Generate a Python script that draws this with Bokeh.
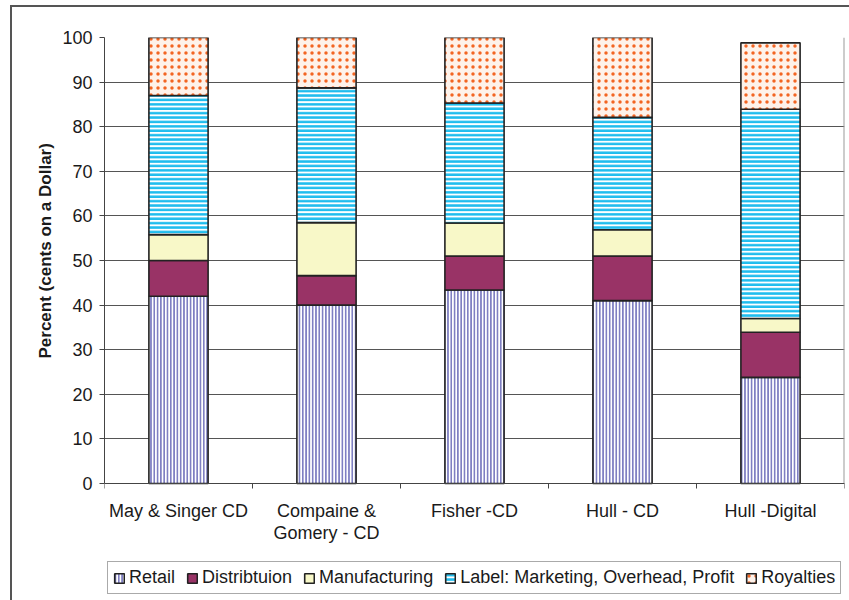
import numpy as np
from bokeh.plotting import figure
from bokeh.models import (Range1d, FixedTicker, Legend, LegendItem, ColumnDataSource,
                          Title)
from bokeh.embed import file_html
from bokeh.resources import INLINE

# Share of each dollar of a recording's price, by source of the estimate
sources = ["May & Singer CD", "Compaine &\nGomery - CD", "Fisher -CD", "Hull - CD", "Hull -Digital"]
retail = [42.0, 40.0, 43.4, 41.0, 23.8]
distribution = [8.0, 6.6, 7.6, 10.0, 10.1]
manufacturing = [5.8, 11.9, 7.4, 5.9, 3.1]
label_share = [31.2, 30.2, 26.9, 25.2, 46.9]
royalties = [13.0, 11.3, 14.7, 17.9, 14.9]

series_names = ["Retail", "Distribtuion", "Manufacturing",
                "Label: Marketing, Overhead, Profit", "Royalties"]
y_ticks = [0, 10, 20, 30, 40, 50, 60, 70, 80, 90, 100]

FONT = "Liberation Sans"
TEXT = "#1a1a1a"
AXIS = "#444444"

# plot area: 446 px tall for 0..100; it is extended downwards so that the
# category labels and the legend are drawn inside it
PX_PER_UNIT = 4.46
FRAME_H = 563
y_start = 100 - FRAME_H / PX_PER_UNIT

xpos = np.arange(len(sources)) + 0.5
stack = np.vstack([retail, distribution, manufacturing, label_share, royalties])
tops = np.cumsum(stack, axis=0)
bottoms = tops - stack

p = figure(frame_width=740, frame_height=FRAME_H, output_backend="svg",
           toolbar_location=None,
           x_range=Range1d(0, len(sources)), y_range=Range1d(y_start, 100),
           min_border_left=104, min_border_right=5, min_border_top=37,
           min_border_bottom=0)
p.outline_line_color = None
p.background_fill_color = "white"
# transparent border area so the page background (with the chart's
# outer frame lines) shows through
p.border_fill_color = None
p.styles = {
    "background-color": "white",
    "background-image": "linear-gradient(#555555, #555555), linear-gradient(#555555, #555555)",
    "background-size": "2px 700px, 900px 2px",
    "background-position": "10px 5px, 10px 5px",
    "background-repeat": "no-repeat",
}

# bar styles: hatched or solid fills
styles = [
    dict(fill_color="white", hatch_pattern="vertical_line", hatch_color="#7F7FC2",
         hatch_scale=3.3, hatch_weight=2),
    dict(fill_color="#993366"),
    dict(fill_color="#F8F8C8"),
    dict(fill_color="white", hatch_pattern="horizontal_line", hatch_color="#1FBDEE",
         hatch_scale=4.4, hatch_weight=2.6),
    dict(fill_color="#FEF2EA", hatch_pattern="dot", hatch_color="#F26522",
         hatch_scale=7, hatch_weight=6),
]

renderers = []
for i, st in enumerate(styles):
    src = ColumnDataSource(dict(x=xpos, top=tops[i], bottom=bottoms[i]))
    r = p.vbar(x="x", top="top", bottom="bottom", width=0.4, source=src,
               line_color="#222222", line_width=1.6, **st)
    renderers.append(r)

# gridlines
p.xgrid.visible = False
p.ygrid.grid_line_color = "#555555"
p.ygrid.grid_line_width = 1
p.ygrid.ticker = FixedTicker(ticks=y_ticks)

# right edge of the 0..100 plotting area
p.segment(x0=[len(sources)], y0=[0], x1=[len(sources)], y1=[100],
          line_color="#9a9a9a", line_width=2)

# y axis, limited to 0..100
ya = p.yaxis[0]
ya.ticker = FixedTicker(ticks=y_ticks)
ya.bounds = (0, 100)
ya.major_label_text_font = FONT
ya.major_label_text_font_size = "18px"
ya.major_label_text_color = TEXT
ya.major_label_standoff = 7
ya.major_tick_out = 5
ya.major_tick_in = 0
ya.minor_tick_line_color = None
ya.axis_line_color = AXIS
ya.major_tick_line_color = AXIS

# y axis title, placed along the 0..100 span
p.add_layout(Title(text="Percent (cents on a Dollar)", align="left", offset=242,
                   standoff=10, text_font=FONT, text_font_style="bold",
                   text_font_size="17px", text_color=TEXT), "left")

# x axis on y = 0: labels at category centres, ticks at category boundaries
xa = p.xaxis[0]
xa.fixed_location = 0
xa.ticker = FixedTicker(ticks=list(xpos), minor_ticks=list(range(len(sources) + 1)))
xa.major_label_overrides = {float(x): s for x, s in zip(xpos, sources)}
xa.major_label_text_font = FONT
xa.major_label_text_font_size = "18px"
xa.major_label_text_color = TEXT
xa.major_label_text_line_height = 1.1
xa.major_label_standoff = 12
xa.major_tick_line_color = None
xa.major_tick_out = 0
xa.major_tick_in = 0
xa.minor_tick_out = 5
xa.minor_tick_in = 0
xa.minor_tick_line_color = AXIS
xa.axis_line_color = AXIS

legend = Legend(
    items=[LegendItem(label=n, renderers=[r]) for n, r in zip(series_names, renderers)],
    orientation="horizontal", location=(3, 6),
    glyph_width=12, glyph_height=12, label_standoff=4, spacing=11,
    padding=5, margin=0,
    border_line_color="#555555", border_line_width=1,
    background_fill_color="white",
    label_text_font=FONT, label_text_font_size="18px", label_text_color=TEXT,
    label_height=14,
)
p.add_layout(legend, "center")

open("out.html", "w").write(file_html(p, INLINE))
